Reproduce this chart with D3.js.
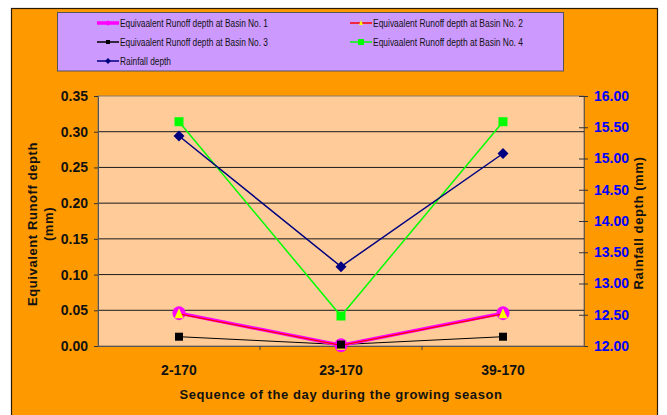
<!DOCTYPE html>
<meta charset="utf-8">
<html>
<head>
  <script src="https://d3js.org/d3.v7.min.js"></script>
</head>
<style>
body { margin: 0; background: white; }
svg text { font-family: "Liberation Sans", Arial, sans-serif; }
.tick-left { font-size: 14px; font-weight: bold; fill: #111; }
.tick-right { font-size: 14px; font-weight: bold; fill: #0000ff; }
.axis-title { font-size: 13px; font-weight: bold; fill: #111; letter-spacing: 0.6px; }
.legend-text { font-size: 10px; fill: #111; }
</style>
<body>
<div id="container"></div>
<script>

var categories = ["2-170", "23-170", "39-170"]
var basin1 = [0.046, 0.001, 0.046]
var basin2 = [0.045, 0.001, 0.045]
var basin3 = [0.013, 0.002, 0.013]
var basin4 = [0.314, 0.042, 0.314]
var rainfall = [15.36, 13.27, 15.08]
var leftTicks = [0, 0.05, 0.10, 0.15, 0.20, 0.25, 0.30, 0.35]
var rightTicks = [12, 12.5, 13, 13.5, 14, 14.5, 15, 15.5, 16]

var width = 667, height = 415
var plot = {left: 98, right: 584, top: 96, bottom: 346}

var svg = d3.select("#container").append("svg")
            .attr("width", width).attr("height", height)

// orange frame
svg.append("rect").attr("x", 11.5).attr("y", 8.5)
   .attr("width", 646).attr("height", 420)
   .attr("fill", "#ff9900").attr("stroke", "#2a1a00").attr("stroke-width", 1.2)

// plot background
svg.append("rect").attr("x", plot.left).attr("y", plot.top)
   .attr("width", plot.right - plot.left).attr("height", plot.bottom - plot.top)
   .attr("fill", "#ffcc99").attr("stroke", "#8a7a6a").attr("stroke-width", 1)

var x = d3.scaleBand().domain(categories).range([plot.left, plot.right])
var yL = d3.scaleLinear().domain([0, 0.35]).range([plot.bottom, plot.top])
var yR = d3.scaleLinear().domain([12, 16]).range([plot.bottom, plot.top])
var cx = (d) => x(d) + x.bandwidth() / 2

// gridlines
svg.append("g").selectAll("line").data(leftTicks.slice(1, -1)).enter()
   .append("line")
   .attr("x1", plot.left).attr("x2", plot.right)
   .attr("y1", (d) => yL(d)).attr("y2", (d) => yL(d))
   .attr("stroke", "#1a1a1a").attr("stroke-width", 1)

// left axis
var axL = d3.axisLeft(yL).tickValues(leftTicks).tickSize(4).tickFormat(d3.format(".2f"))
var gL = svg.append("g").attr("transform", "translate(" + plot.left + ",0)").call(axL)
gL.select(".domain").attr("stroke", "#555")
gL.selectAll(".tick line").attr("stroke", "#333")
gL.selectAll("text").attr("class", "tick-left").attr("x", -10).attr("font-family", null).attr("font-size", null).attr("fill", null)

// right axis
var axR = d3.axisRight(yR).tickValues(rightTicks).tickSize(4).tickFormat(d3.format(".2f"))
var gR = svg.append("g").attr("transform", "translate(" + plot.right + ",0)").call(axR)
gR.select(".domain").attr("stroke", "#6b5a40")
gR.selectAll(".tick line").attr("x1", -5).attr("x2", 4).attr("stroke", "#333")
gR.selectAll("text").attr("class", "tick-right").attr("x", 10).attr("font-family", null).attr("font-size", null).attr("fill", null)

// x axis
var axX = d3.axisBottom(x).tickSize(0).tickFormat("")
var gX = svg.append("g").attr("transform", "translate(0," + plot.bottom + ")").call(axX)
gX.select(".domain").attr("stroke", "#555")
gX.append("g").selectAll("line").data(categories.slice(1)).enter()
   .append("line").attr("x1", (d) => x(d)).attr("x2", (d) => x(d))
   .attr("y1", 0).attr("y2", 4).attr("stroke", "#444")
gX.append("g").selectAll("text").data(categories).enter()
   .append("text").attr("x", cx).attr("y", 29)
   .attr("text-anchor", "middle").attr("class", "tick-left").text((d) => d)

// axis titles
svg.append("text").attr("class", "axis-title").attr("text-anchor", "middle")
   .attr("transform", "translate(37,224) rotate(-90)").text("Equivalent Runoff depth")
svg.append("text").attr("class", "axis-title").attr("text-anchor", "middle")
   .attr("transform", "translate(53,224) rotate(-90)").text("(mm)")
svg.append("text").attr("class", "axis-title").attr("text-anchor", "middle")
   .attr("transform", "translate(643,223) rotate(-90)").text("Rainfall depth (mm)")
svg.append("text").attr("class", "axis-title").attr("text-anchor", "middle")
   .attr("x", (plot.left + plot.right) / 2).attr("y", 399).attr("letter-spacing", "1px")
   .text("Sequence of the day during the growing season")

// series
var series = [
  {name: "Equivaalent Runoff depth at Basin No. 3", values: basin3, y: yL, color: "#000", width: 1, marker: "square", mfill: "#000", msize: 8, tl: 148},
  {name: "Equivaalent Runoff depth at Basin No. 4", values: basin4, y: yL, color: "#00ff00", width: 1.5, marker: "square", mfill: "#00ff00", msize: 9, tl: 150},
  {name: "Rainfall depth", values: rainfall, y: yR, color: "#000080", width: 1.5, marker: "diamond", mfill: "#000080", msize: 9, tl: 51},
  {name: "Equivaalent Runoff depth at Basin No. 1", values: basin1, y: yL, color: "#ff00ff", width: 3.5, marker: "circle", mfill: "#ff00ff", msize: 13, tl: 148},
  {name: "Equivaalent Runoff depth at Basin No. 2", values: basin2, y: yL, color: "#ff0000", width: 1.2, marker: "triangle", mfill: "#ffff00", msize: 9, tl: 150}
]

function marker(g, s, px, py, size) {
  if (s.marker == "square") {
    g.append("rect").attr("x", px - size / 2).attr("y", py - size / 2)
     .attr("width", size).attr("height", size).attr("fill", s.mfill)
  } else if (s.marker == "diamond") {
    var h = size / 2 + 1
    g.append("path").attr("d", "M" + px + "," + (py - h) + "L" + (px + h) + "," + py + "L" + px + "," + (py + h) + "L" + (px - h) + "," + py + "Z")
     .attr("fill", s.mfill)
  } else if (s.marker == "circle") {
    g.append("ellipse").attr("cx", px).attr("cy", py).attr("rx", size / 2).attr("ry", size / 2 + 0.5).attr("fill", s.mfill)
  } else if (s.marker == "triangle") {
    var t = size / 2
    g.append("path").attr("d", "M" + px + "," + (py - t - 1) + "L" + (px + t) + "," + (py + t) + "L" + (px - t) + "," + (py + t) + "Z")
     .attr("fill", s.mfill)
  }
}

var line = d3.line()
series.forEach(function(s) {
  var g = svg.append("g")
  var pts = categories.map((c, i) => [cx(c), s.y(s.values[i])])
  g.append("path").attr("d", line(pts)).attr("fill", "none")
   .attr("stroke", s.color).attr("stroke-width", s.width)
  pts.forEach((p) => marker(g, s, p[0], p[1], s.msize))
})

// basin 3 marker at the middle drawn over magenta circle
var mid = svg.append("g")
marker(mid, series[0], cx(categories[1]), yL(basin3[1]), 8)

// legend
svg.append("rect").attr("x", 57.5).attr("y", 12.5).attr("width", 506).attr("height", 58.5)
   .attr("fill", "#cc99ff").attr("stroke", "#555").attr("stroke-width", 1)

var legendOrder = [3, 4, 0, 1, 2]
var legendPos = [[97, 23], [350, 23], [97, 42], [350, 42], [97, 61]]
legendOrder.forEach(function(si, k) {
  var s = series[si]
  var lx = legendPos[k][0], ly = legendPos[k][1]
  var g = svg.append("g")
  g.append("line").attr("x1", lx).attr("x2", lx + 22).attr("y1", ly).attr("y2", ly)
   .attr("stroke", s.color).attr("stroke-width", Math.max(s.width, 1.5))
  var ms = s.marker == "circle" ? 4 : (s.name.endsWith("4") ? 6 : 4)
  marker(g, s, lx + 11, ly, ms)
  g.append("text").attr("class", "legend-text").attr("x", lx + 23).attr("y", ly + 3.5)
   .attr("textLength", s.tl).attr("lengthAdjust", "spacingAndGlyphs").text(s.name)
})

</script>
</body>
</html>
